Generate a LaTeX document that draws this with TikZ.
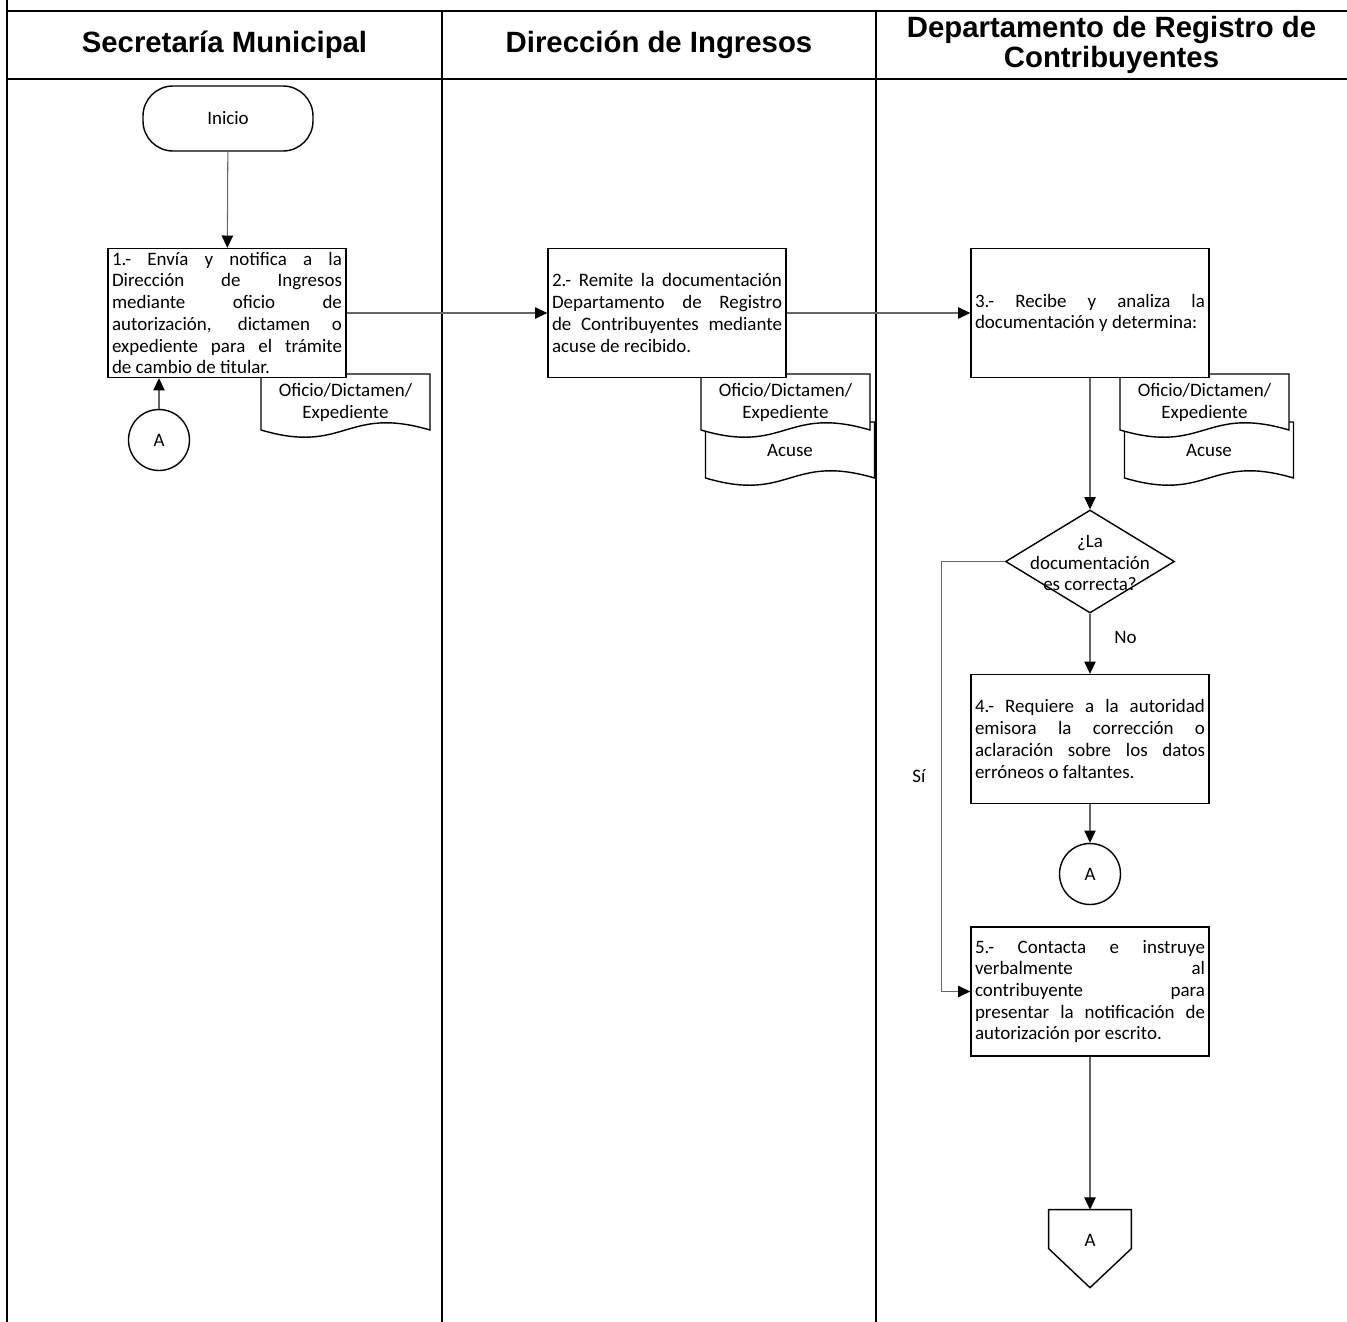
\documentclass[tikz,border=0pt]{standalone}
\usepackage{fontspec}
\setmainfont{Carlito}
\newfontfamily\headfont{Liberation Sans}
\usetikzlibrary{shapes,calc,arrows.meta}

\tikzset{
  lane/.style={line width=1.6pt},
  head/.style={font=\headfont\bfseries\fontsize{16.7}{17.2}\selectfont, align=center},
  txt/.style={font=\fontsize{10.8}{12.35}\selectfont},
  proc/.style={txt, draw, fill=white, line width=0.8pt, minimum width=4.76cm, minimum height=2.58cm, text width=4.6cm, inner sep=0.08cm, align=justify},
  term/.style={txt, draw, rounded corners=0.6cm, line width=0.8pt, minimum width=3.4cm, minimum height=1.3cm},
  conn/.style={txt, draw, circle, line width=0.8pt, minimum size=1.22cm, inner sep=0pt},
  decision/.style={draw, diamond, line width=0.8pt, minimum width=3.38cm, minimum height=2.06cm, inner sep=0pt},
  offp/.style={txt, minimum width=1.64cm, minimum height=1.2cm, inner sep=0pt},
  doc/.style={txt, minimum width=3.38cm, minimum height=1.12cm, inner sep=1pt, align=center, anchor=north},
  docline/.style={draw, fill=white, line width=0.8pt},
  flow/.style={draw=black!60, line width=0.6pt, -{Triangle[length=7pt,width=6.5pt,color=black]}}
}

\newcommand{\docshape}[1]{%
  \draw[docline] ($(#1)+(-84.5,0)$) -- ($(#1)+(84.5,0)$) -- ($(#1)+(84.5,56)$)
    .. controls ($(#1)+(0,31)$) and ($(#1)+(0,81)$) .. ($(#1)+(-84.5,56)$) -- cycle;}

\begin{document}
\begin{tikzpicture}[x=0.02cm,y=-0.02cm]
  \useasboundingbox (0,0) rectangle (1347,1322);

  \draw[lane] (7,0) -- (7,1322);
  \draw[lane] (7,11) -- (1347,11);
  \draw[lane] (7,79) -- (1347,79);
  \draw[lane] (442,11) -- (442,1322);
  \draw[lane] (876,11) -- (876,1322);

  \node[head] (hsec) at (224.5,45) {Secretaría Municipal};
  \node[head] (hdir) at (659,45) {Dirección de Ingresos};
  \node[head] (hdep) at (1111.5,45) {Departamento de Registro de\\Contribuyentes};

  \coordinate (d1) at (345.5,374);
  \coordinate (d2b) at (790,422);
  \coordinate (d2) at (785.5,374);
  \coordinate (d3b) at (1209,422);
  \coordinate (d3) at (1204.5,374);
  \docshape{d1}
  \node[doc] (d1t) at (d1) {Oficio/Dictamen/\\Expediente};
  \docshape{d2b}
  \node[doc] (d2bt) at (d2b) {Acuse};
  \docshape{d2}
  \node[doc] (d2t) at (d2) {Oficio/Dictamen/\\Expediente};
  \docshape{d3b}
  \node[doc] (d3bt) at (d3b) {Acuse};
  \docshape{d3}
  \node[doc] (d3t) at (d3) {Oficio/Dictamen/\\Expediente};

  \node[term] (start) at (228,118.5) {Inicio};
  \node[proc, inner sep=0.04cm] (b1) at (227,313) {1.- Envía y notifica a la\linebreak
    Dirección de Ingresos\linebreak mediante oficio de\linebreak
    autorización, dictamen o\linebreak expediente para el trámite\linebreak
    de cambio de titular.};
  \node[conn] (c1) at (159,440) {A};
  \node[proc] (b2) at (667,313) {2.- Remite la documentación\linebreak
    Departamento de Registro\linebreak de Contribuyentes mediante\linebreak
    acuse de recibido.};
  \node[proc] (b3) at (1090,313) {3.- Recibe y analiza la\linebreak
    documentación y determina:};
  \node[decision] (q) at (1090,561.5) {};
  \node[txt, align=center] (qt) at (1090,563) {¿La\\documentación\\es correcta?};
  \node[proc] (b4) at (1090,739) {4.- Requiere a la autoridad\linebreak
    emisora la corrección o\linebreak aclaración sobre los datos\linebreak
    erróneos o faltantes.};
  \node[conn] (c2) at (1090,874) {A};
  \node[proc] (b5) at (1090,991.5) {5.- Contacta e instruye\linebreak
    verbalmente al\linebreak contribuyente para\linebreak
    presentar la notificación de\linebreak autorización por escrito.};
  \node[offp] (a2) at (1090,1240) {A};
  \draw[line width=0.8pt] (a2.north west) -- (a2.north east) -- ++(0,39)
    -- ($(a2.north)+(0,78)$) -- ($(a2.north west)+(0,39)$) -- cycle;

  \draw[flow] (start) -- (b1);
  \draw[flow] (c1) -- (c1 |- b1.south);
  \draw[flow] (b1) -- (b2);
  \draw[flow] (b2) -- (b3);
  \draw[flow] (b3) -- (q);
  \draw[flow] (q) -- node[txt, right, pos=0.4, xshift=0.36cm] {No} (b4);
  \draw[flow] (q.west) -- ++(-63,0) |- node[txt, left, pos=0.25, xshift=-0.2cm] {Sí} (b5.west);
  \draw[flow] (b4) -- (c2);
  \draw[flow] (b5) -- (a2.north);
\end{tikzpicture}
\end{document}
